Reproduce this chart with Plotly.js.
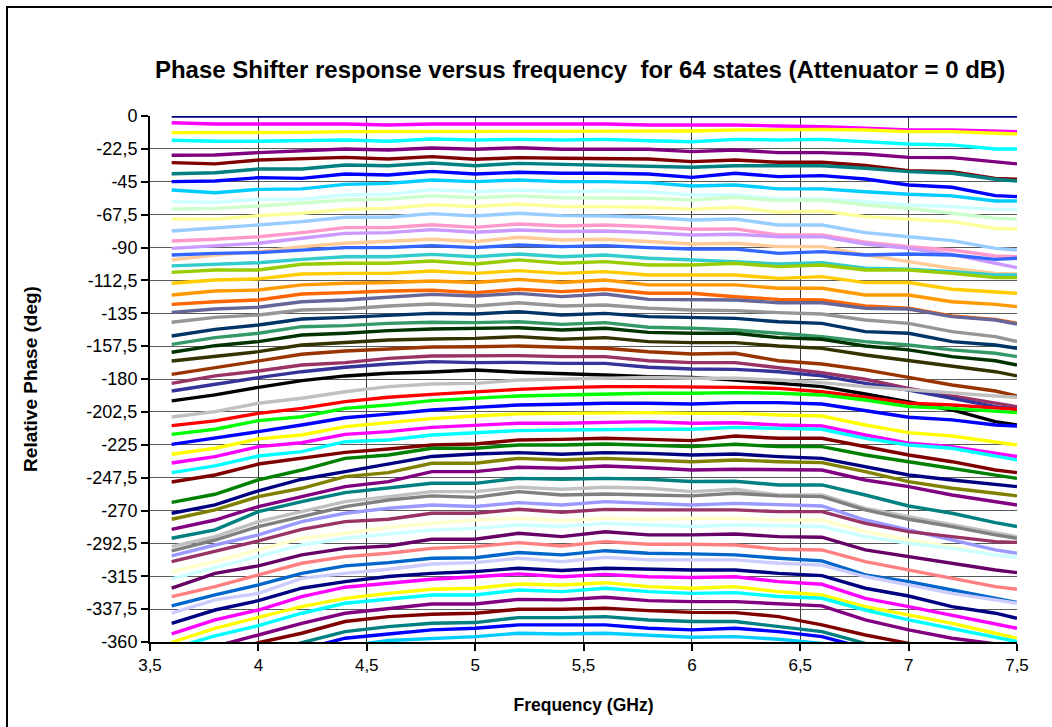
<!DOCTYPE html>
<html>
<head>
<meta charset="utf-8">
<script src="https://cdn.plot.ly/plotly-3.0.1.min.js"></script>
<style>
  html, body { margin: 0; padding: 0; background: #fff; overflow: hidden; }
  #chart { width: 1052px; height: 727px; }
  #frame { position: absolute; left: 6px; top: 6px; width: 1200px; height: 900px; border: 2px solid #000; pointer-events: none; }
</style>
</head>
<body>
<div id="chart"></div>
<div id="frame"></div>
<script>
// Frequency points (GHz)
const freqGHz = [3.6,3.8,4.0,4.2,4.4,4.6,4.8,5.0,5.2,5.4,5.6,5.8,6.0,6.2,6.4,6.6,6.8,7.0,7.2,7.4,7.5];

// Relative phase (deg) for each of the 64 states
const state00 = [0,0,0,0,0,0,0,0,0,0,0,0,0,0,0,0,0,0,0,0,0];
const state01 = [-4.6,-5.5,-5.5,-5.5,-5.5,-6.2,-5.5,-5.5,-5.5,-5.5,-5.5,-6.2,-6.2,-6.2,-6.8,-7.3,-8.4,-9.6,-9.6,-10.7,-10.7];
const state02 = [-11.4,-11.4,-11.4,-11.2,-10.7,-10.7,-10.3,-10.3,-10.3,-10.3,-10.3,-10.3,-10.3,-9.6,-9.2,-9.2,-9.6,-10.7,-10.7,-11.9,-12.3];
const state03 = [-16.6,-17.3,-17.3,-16.9,-16.4,-17.3,-15.7,-16.4,-16.0,-16.4,-16.0,-16.9,-17.6,-16.0,-16.4,-16.0,-17.6,-19.2,-19.8,-22.6,-22.6];
const state04 = [-26.9,-26.7,-25.1,-23.9,-22.6,-23.3,-21.9,-22.8,-21.7,-22.8,-22.8,-22.8,-24.4,-23.3,-25.1,-25.1,-26.0,-28.3,-28.5,-31.7,-32.8];
const state05 = [-31.9,-32.8,-30.1,-29.4,-28.3,-29.4,-27.8,-29.6,-28.5,-28.9,-29.4,-29.4,-31.2,-30.1,-31.7,-31.7,-33.9,-37.4,-38.1,-42.7,-43.3];
const state06 = [-39.5,-38.8,-36.3,-36.3,-33.5,-34.0,-32.2,-34.0,-32.4,-33.1,-33.5,-34.2,-35.1,-34.0,-34.0,-34.0,-35.8,-38.1,-39.2,-43.3,-44.5];
const state07 = [-44.9,-44.5,-42.2,-42.7,-39.7,-40.4,-37.9,-39.7,-38.5,-39.2,-39.2,-39.7,-42.0,-39.2,-41.5,-40.8,-43.1,-47.2,-48.8,-54.5,-55.2];
const state08 = [-50.6,-52.5,-50.2,-49.9,-46.8,-46.1,-43.8,-44.9,-43.8,-44.9,-44.9,-45.6,-47.9,-47.2,-49.9,-49.9,-51.8,-53.6,-54.7,-58.2,-58.2];
const state09 = [-58.6,-59.1,-57.0,-57.0,-54.1,-53.6,-50.4,-51.8,-50.6,-51.8,-51.3,-51.8,-54.1,-54.1,-56.8,-56.8,-58.6,-60.9,-62.0,-63.9,-63.9];
const state10 = [-63.6,-63.2,-61.6,-59.8,-57.5,-56.8,-54.7,-55.9,-54.7,-55.9,-55.9,-56.3,-57.5,-55.6,-57.9,-57.5,-60.9,-63.2,-66.6,-70.0,-70.5];
const state11 = [-70.5,-70.7,-68.2,-66.6,-63.9,-63.2,-60.7,-62.0,-60.2,-62.0,-62.0,-62.5,-63.9,-62.5,-65.9,-65.0,-68.9,-70.7,-72.3,-76.9,-77.3];
const state12 = [-78.7,-76.9,-74.6,-72.3,-69.3,-69.3,-66.8,-68.4,-66.6,-68.2,-68.4,-69.3,-71.2,-70.5,-74.6,-74.6,-79.8,-82.6,-85.3,-90.6,-91.7];
const state13 = [-85.5,-84.4,-82.6,-79.8,-76.4,-76.4,-74.4,-76.2,-73.9,-75.3,-74.6,-75.7,-77.5,-77.3,-81.4,-81.4,-86.4,-89.4,-91.7,-95.8,-96.3];
const state14 = [-90.6,-88.7,-87.1,-83.7,-80.3,-79.8,-77.8,-79.6,-78.0,-79.1,-78.7,-79.8,-81.4,-80.9,-82.6,-82.6,-87.6,-90.6,-94.7,-100.8,-103.8];
const state15 = [-98.5,-95.1,-92.8,-89.4,-87.1,-85.9,-84.4,-85.9,-83.0,-84.9,-84.4,-85.9,-87.6,-87.1,-89.4,-89.4,-95.1,-99.7,-104.2,-107.7,-108.1];
const state16 = [-95.1,-94.0,-93.5,-91.7,-90.1,-90.1,-88.7,-90.1,-88.3,-89.4,-88.7,-90.1,-91.0,-91.0,-94.0,-92.8,-95.1,-94.4,-95.1,-98.1,-97.4];
const state17 = [-102.6,-101.5,-100.4,-98.1,-96.3,-96.3,-94.7,-96.3,-94.4,-96.3,-95.1,-97.4,-98.5,-99.7,-101.3,-100.4,-104.2,-104.9,-106.5,-108.8,-108.8];
const state18 = [-107.0,-105.4,-105.4,-101.5,-100.8,-100.8,-99.2,-101.3,-98.5,-100.8,-99.7,-102.0,-102.0,-100.8,-103.1,-102.0,-105.4,-105.4,-107.7,-110.6,-110.6];
const state19 = [-114.5,-112.2,-111.5,-108.1,-107.7,-107.7,-106.1,-107.7,-105.8,-107.7,-106.5,-108.8,-108.8,-108.8,-111.1,-109.9,-114.0,-114.0,-118.6,-120.7,-121.3];
const state20 = [-122.5,-119.8,-119.1,-115.6,-114.5,-114.0,-112.9,-114.0,-111.8,-114.0,-112.2,-115.6,-115.6,-115.6,-117.9,-117.9,-122.5,-122.5,-127.1,-128.9,-130.5];
const state21 = [-128.9,-127.1,-125.9,-121.8,-120.9,-119.8,-119.3,-120.9,-118.6,-120.2,-118.6,-121.3,-121.3,-123.7,-125.5,-125.9,-130.0,-131.6,-136.9,-139.2,-141.9];
const state22 = [-134.4,-132.1,-130.9,-127.1,-125.9,-124.1,-122.1,-123.2,-121.4,-123.6,-121.8,-125.5,-125.9,-125.9,-127.8,-127.8,-131.6,-132.1,-137.3,-139.6,-142.4];
const state23 = [-141.2,-137.8,-136.2,-132.8,-132.1,-130.0,-128.7,-130.0,-127.8,-130.0,-129.4,-131.6,-132.8,-133.2,-134.6,-135.5,-139.6,-141.9,-147.6,-151.0,-154.4];
const state24 = [-150.6,-146.0,-143.0,-138.9,-137.8,-136.2,-135.1,-135.5,-133.9,-136.2,-135.1,-137.3,-137.8,-138.5,-140.8,-141.9,-147.6,-148.7,-154.4,-156.7,-159.0];
const state25 = [-156.3,-151.7,-148.7,-144.2,-143.5,-141.9,-141.2,-141.4,-140.8,-142.6,-141.4,-144.6,-145.3,-146.5,-148.7,-151.0,-154.4,-156.7,-160.1,-162.4,-164.7];
const state26 = [-161.7,-157.2,-154.4,-149.9,-148.7,-146.9,-145.8,-145.3,-144.9,-146.5,-145.3,-148.1,-148.7,-148.7,-151.7,-152.8,-157.4,-160.1,-164.7,-167.5,-170.4];
const state27 = [-167.7,-164.7,-161.3,-156.7,-155.1,-153.3,-152.6,-152.2,-151.0,-152.8,-151.7,-154.4,-155.1,-155.1,-157.4,-159.0,-163.6,-167.5,-171.6,-175.0,-177.9];
const state28 = [-176.8,-172.2,-167.7,-163.1,-160.8,-159.5,-158.1,-157.9,-157.4,-158.3,-159.0,-161.3,-162.9,-162.4,-167.5,-169.7,-173.8,-178.9,-184.1,-188.2,-191.6];
const state29 = [-183.0,-177.9,-174.5,-170.4,-168.8,-165.9,-164.3,-164.0,-164.0,-164.7,-164.7,-167.5,-168.8,-168.8,-172.0,-175.7,-180.2,-186.4,-191.6,-196.2,-198.9];
const state30 = [-188.2,-183.6,-179.1,-175.0,-172.0,-169.7,-168.1,-168.8,-168.6,-169.3,-169.3,-172.0,-173.2,-173.4,-175.0,-177.9,-183.0,-187.5,-193.2,-198.9,-200.7];
const state31 = [-195.0,-190.9,-185.7,-181.1,-177.9,-176.1,-175.2,-173.8,-175.4,-176.1,-177.3,-178.4,-178.9,-180.7,-183.0,-185.2,-190.3,-195.5,-201.2,-209.2,-211.5];
const state32 = [-206.0,-202.3,-196.6,-193.2,-188.7,-185.2,-183.4,-183.0,-180.7,-180.2,-179.5,-178.9,-179.5,-179.5,-180.7,-182.5,-185.2,-187.5,-189.3,-191.6,-192.5];
const state33 = [-211.9,-208.7,-203.5,-200.1,-195.5,-192.5,-190.5,-188.7,-187.1,-185.9,-185.2,-185.2,-185.2,-185.7,-186.4,-188.7,-192.5,-196.6,-197.8,-200.1,-200.8];
const state34 = [-217.9,-214.4,-208.5,-205.8,-200.1,-197.8,-194.8,-193.2,-191.6,-190.9,-190.3,-189.8,-189.8,-189.3,-189.8,-190.9,-194.4,-198.9,-200.1,-202.3,-203.0];
const state35 = [-224.7,-220.6,-216.0,-211.5,-206.5,-204.0,-201.2,-199.4,-197.8,-197.3,-196.6,-196.6,-197.1,-196.2,-196.2,-197.1,-201.7,-206.2,-208.0,-211.5,-212.2];
const state36 = [-231.5,-227.4,-221.0,-218.3,-212.6,-209.9,-207.1,-205.3,-203.9,-203.5,-203.0,-203.0,-203.5,-203.5,-204.6,-205.3,-211.5,-216.7,-219.0,-222.9,-225.2];
const state37 = [-237.5,-233.1,-226.3,-223.6,-217.9,-216.0,-213.1,-211.5,-210.3,-210.3,-209.7,-209.2,-210.3,-209.9,-211.5,-212.2,-218.3,-224.0,-226.3,-230.9,-233.1];
const state38 = [-244.1,-239.5,-232.7,-229.7,-222.9,-221.7,-218.3,-216.7,-215.3,-214.9,-214.4,-214.4,-214.4,-213.1,-213.8,-214.4,-220.6,-225.2,-227.4,-233.1,-235.4];
const state39 = [-250.5,-245.7,-238.2,-234.3,-230.2,-227.9,-225.2,-224.5,-221.7,-221.3,-220.6,-221.3,-222.2,-219.0,-220.6,-220.6,-226.3,-232.0,-236.6,-242.3,-244.1];
const state40 = [-264.4,-258.9,-249.0,-242.3,-234.3,-232.0,-227.4,-227.4,-225.2,-225.2,-224.5,-225.2,-226.3,-224.7,-226.3,-226.3,-232.0,-236.6,-241.1,-245.7,-248.0];
const state41 = [-271.9,-266.2,-256.5,-248.6,-243.4,-238.2,-233.0,-231.3,-230.4,-231.5,-230.4,-230.9,-232.0,-231.3,-233.1,-234.3,-240.0,-245.7,-249.1,-252.5,-253.7];
const state42 = [-276.0,-269.6,-260.5,-254.8,-246.8,-244.1,-237.7,-237.7,-234.3,-235.4,-234.3,-235.4,-236.6,-235.4,-236.6,-237.2,-243.4,-250.2,-254.8,-258.2,-260.0];
const state43 = [-282.9,-276.5,-267.3,-260.5,-253.7,-250.2,-243.4,-243.4,-240.4,-241.1,-239.5,-240.7,-242.3,-241.8,-242.3,-242.3,-249.1,-253.7,-259.4,-263.9,-266.2];
const state44 = [-289.0,-283.3,-270.8,-263.9,-257.8,-254.8,-251.4,-251.4,-248.0,-248.6,-248.0,-248.6,-250.2,-250.0,-252.5,-252.5,-259.4,-266.9,-271.9,-278.3,-281.0];
const state45 = [-294.7,-287.9,-277.6,-270.8,-263.9,-260.5,-257.1,-257.1,-254.1,-255.5,-254.1,-254.8,-257.1,-255.5,-259.4,-259.4,-268.5,-274.2,-279.9,-285.6,-287.9];
const state46 = [-297.7,-290.2,-281.0,-274.2,-267.3,-262.8,-260.0,-261.0,-257.1,-259.4,-258.7,-259.4,-260.0,-258.2,-260.0,-260.5,-269.6,-276.0,-281.0,-286.7,-289.0];
const state47 = [-301.1,-293.6,-286.7,-277.6,-271.9,-268.5,-266.2,-267.3,-264.6,-266.2,-263.9,-265.1,-266.2,-265.1,-266.2,-266.9,-276.5,-283.3,-290.2,-297.0,-299.3];
const state48 = [-305.0,-298.1,-290.8,-282.9,-277.6,-276.0,-271.9,-271.9,-269.2,-271.2,-269.2,-269.6,-269.6,-269.6,-270.8,-270.8,-278.8,-284.5,-287.9,-291.3,-291.8];
const state49 = [-311.8,-305.0,-297.0,-289.0,-285.6,-281.5,-278.8,-276.5,-275.3,-276.9,-275.3,-276.0,-275.3,-275.3,-276.5,-276.5,-284.5,-290.2,-294.7,-300.4,-301.6];
const state50 = [-316.8,-308.9,-301.1,-293.6,-289.0,-286.1,-283.3,-282.2,-279.9,-281.0,-278.8,-279.9,-281.0,-279.9,-280.6,-281.0,-287.9,-292.4,-295.9,-300.4,-302.0];
const state51 = [-323.2,-313.0,-307.9,-300.4,-295.9,-294.3,-289.7,-289.7,-285.6,-287.9,-284.5,-286.7,-286.7,-286.1,-287.9,-288.3,-297.0,-301.6,-306.1,-310.7,-312.5];
const state52 = [-328.9,-322.1,-314.1,-306.1,-301.6,-299.3,-295.9,-294.7,-292.0,-294.3,-291.3,-293.1,-293.1,-293.6,-296.5,-297.0,-305.0,-310.7,-316.4,-322.1,-323.9];
const state53 = [-335.3,-327.8,-320.9,-313.0,-307.9,-305.7,-302.7,-302.3,-298.8,-300.4,-297.5,-299.3,-299.7,-300.4,-302.7,-304.5,-314.1,-318.7,-324.4,-330.1,-333.0];
const state54 = [-340.3,-331.2,-326.7,-316.4,-313.0,-310.2,-306.6,-305.7,-302.7,-305.0,-302.0,-303.8,-303.8,-303.8,-306.1,-307.3,-315.2,-321.0,-326.7,-331.2,-333.5];
const state55 = [-347.2,-338.1,-331.7,-323.2,-318.7,-315.2,-313.0,-311.8,-309.5,-311.1,-309.5,-310.2,-310.7,-310.7,-313.0,-314.6,-323.2,-328.5,-335.8,-340.3,-343.8];
const state56 = [-354.5,-344.9,-338.1,-328.9,-322.5,-319.8,-317.1,-315.3,-313.4,-315.3,-313.7,-315.3,-315.9,-315.3,-318.7,-320.5,-330.1,-335.8,-341.5,-347.2,-350.6];
const state57 = [-360.2,-350.6,-343.1,-335.8,-330.1,-326.7,-323.9,-323.2,-320.3,-321.0,-319.4,-322.1,-323.2,-322.1,-325.5,-327.8,-335.8,-341.5,-347.2,-354.0,-357.4];
const state58 = [-364.5,-355.8,-348.8,-340.3,-333.5,-330.8,-327.8,-327.8,-324.4,-325.5,-323.2,-325.5,-326.7,-326.2,-328.9,-330.1,-338.1,-344.9,-350.6,-356.3,-359.7];
const state59 = [-372.0,-363.0,-355.2,-347.2,-340.3,-336.9,-334.0,-334.0,-330.8,-331.2,-329.4,-331.7,-332.4,-332.4,-334.0,-335.3,-344.9,-351.7,-357.4,-360.9,-363.2];
const state60 = [-378.0,-369.0,-360.5,-354.0,-346.0,-342.6,-341.0,-340.3,-337.6,-337.6,-336.9,-338.5,-339.7,-339.9,-342.6,-348.3,-355.2,-360.9,-367.0,-372.0,-375.0];
const state61 = [-385.0,-376.0,-368.0,-360.2,-352.9,-349.5,-347.2,-346.7,-343.3,-343.3,-342.6,-344.9,-346.0,-346.0,-349.5,-352.9,-360.9,-368.0,-374.0,-380.0,-383.0];
const state62 = [-390.0,-381.0,-372.0,-365.0,-357.4,-354.5,-351.7,-350.6,-348.3,-348.3,-348.3,-350.6,-351.7,-350.6,-352.9,-356.3,-364.0,-372.0,-378.0,-384.0,-387.0];
const state63 = [-394.0,-385.0,-376.0,-368.0,-363.0,-359.0,-357.4,-356.3,-354.0,-354.5,-354.0,-355.2,-356.8,-356.3,-358.1,-360.9,-368.0,-376.0,-382.0,-388.0,-391.0];

// Line colours, state 0 .. 63
const lineColors = [
  '#000080','#FF00FF','#FFFF00','#00FFFF','#800080','#800000','#008080','#0000FF',
  '#00CCFF','#CCFFFF','#CCFFCC','#FFFF99','#99CCFF','#FF99CC','#CC99FF','#FFCC99',
  '#3366FF','#33CCCC','#99CC00','#FFCC00','#FF9900','#FF6600','#666699','#969696',
  '#003366','#339966','#003300','#333300','#993300','#993366','#333399','#000000',
  '#C0C0C0','#FF0000','#00FF00','#0000FF','#FFFF00','#FF00FF','#00FFFF','#800000',
  '#008000','#000080','#808000','#800080','#008080','#C0C0C0','#808080','#9999FF',
  '#993366','#FFFFCC','#CCFFFF','#660066','#FF8080','#0066CC','#CCCCFF','#000080',
  '#FF00FF','#FFFF00','#00FFFF','#800080','#800000','#008080','#0000FF','#00CCFF'
];

// Axis ticks
const xTickVals = [3.5,4,4.5,5,5.5,6,6.5,7,7.5];
const xTickText = ['3,5','4','4,5','5','5,5','6','6,5','7','7,5'];
const yTickVals = [0,-22.5,-45,-67.5,-90,-112.5,-135,-157.5,-180,-202.5,-225,-247.5,-270,-292.5,-315,-337.5,-360];
const yTickText = ['0','-22,5','-45','-67,5','-90','-112,5','-135','-157,5','-180','-202,5','-225','-247,5','-270','-292,5','-315','-337,5','-360'];

const phaseStates = [
  state00,state01,state02,state03,state04,state05,state06,state07,
  state08,state09,state10,state11,state12,state13,state14,state15,
  state16,state17,state18,state19,state20,state21,state22,state23,
  state24,state25,state26,state27,state28,state29,state30,state31,
  state32,state33,state34,state35,state36,state37,state38,state39,
  state40,state41,state42,state43,state44,state45,state46,state47,
  state48,state49,state50,state51,state52,state53,state54,state55,
  state56,state57,state58,state59,state60,state61,state62,state63
];

const FONT = 'Liberation Sans, Arial, Helvetica, sans-serif';

const traces = phaseStates.map((vals, i) => ({
  type: 'scatter',
  mode: 'lines',
  x: freqGHz,
  y: vals,
  name: 'State ' + i,
  line: { color: lineColors[i], width: 3.4 },
  hoverinfo: 'x+y+name'
}));

const layout = {
  width: 1052,
  height: 727,
  margin: { l: 150, r: 35, t: 116, b: 85 },
  paper_bgcolor: '#ffffff',
  plot_bgcolor: '#ffffff',
  showlegend: false,
  font: { family: FONT, color: '#000000', size: 16 },
  title: {
    text: '<b>Phase Shifter response versus frequency\u00a0 for 64 states (Attenuator = 0 dB)</b>',
    font: { family: FONT, size: 24, color: '#000000' },
    xref: 'paper', x: 0.496, xanchor: 'center',
    yref: 'container', y: 1 - 70 / 727, yanchor: 'middle'
  },
  xaxis: {
    range: [3.5, 7.5],
    tickvals: xTickVals,
    ticktext: xTickText,
    ticks: 'outside', ticklen: 7, tickwidth: 2, tickcolor: '#000',
    showline: true, linewidth: 2, linecolor: '#000',
    showgrid: true, gridcolor: '#3a3a3a', gridwidth: 1,
    zeroline: false,
    tickfont: { family: FONT, size: 17, color: '#000' },
    title: { text: '<b>Frequency (GHz)</b>', font: { family: FONT, size: 17.5, color: '#000' }, standoff: 24 }
  },
  yaxis: {
    range: [-360, 0],
    tickvals: yTickVals,
    ticktext: yTickText,
    ticks: 'outside', ticklen: 7, tickwidth: 2, tickcolor: '#000',
    showline: true, linewidth: 2, linecolor: '#000',
    showgrid: true, gridcolor: '#5a5a5a', gridwidth: 1,
    zeroline: false,
    tickfont: { family: FONT, size: 18, color: '#000' },
    title: { text: '<b>Relative Phase (deg)</b>', font: { family: FONT, size: 19, color: '#000' }, standoff: 44 }
  }
};

Plotly.newPlot('chart', traces, layout, { displayModeBar: false, staticPlot: true });
</script>
</body>
</html>
